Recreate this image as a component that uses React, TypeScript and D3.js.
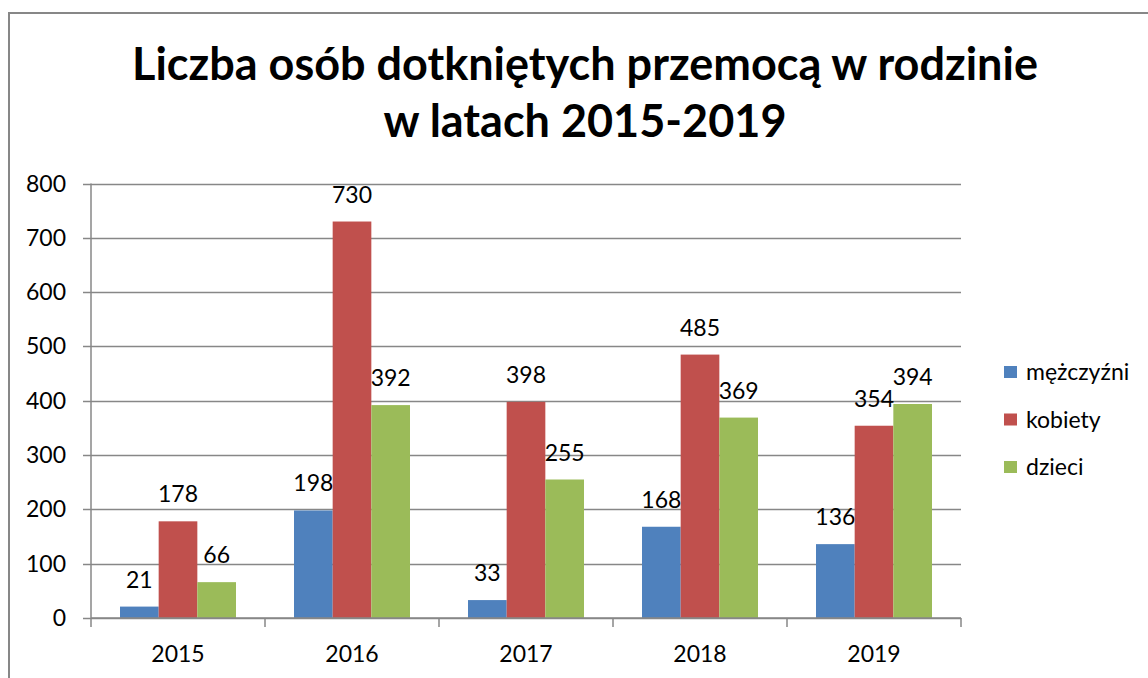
import React from 'react';
import * as d3 from 'd3';

const years = ['2015', '2016', '2017', '2018', '2019'];
const seriesNames = ['mężczyźni', 'kobiety', 'dzieci'];
const men = [21, 198, 33, 168, 136];
const women = [178, 730, 398, 485, 354];
const children = [66, 392, 255, 369, 394];
const yTicks = [0, 100, 200, 300, 400, 500, 600, 700, 800];
const colors = ['#4F81BD', '#C0504D', '#9BBB59'];
const titleLines = ['Liczba osób dotkniętych przemocą w rodzinie', 'w latach 2015-2019'];

const W = 1148;
const H = 678;
const plot = { left: 91, right: 961, top: 183.5, bottom: 618 };
const font = 'Lato, "Open Sans", sans-serif';
const grid = '#878787';
const fs = 23;

export default function App() {
  const values = [men, women, children];

  const x = d3.scaleBand<string>()
    .domain(years)
    .range([plot.left, plot.right]);

  // 3 bars per group, gap between groups ~ 1.5 bar widths
  const inner = d3.scaleBand<number>()
    .domain([0, 1, 2])
    .range([0, x.bandwidth()])
    .paddingInner(0)
    .paddingOuter(0.75);

  const y = d3.scaleLinear()
    .domain([0, 800])
    .range([plot.bottom, plot.top]);

  return (
    <svg width={W} height={H} style={{ position: 'absolute', left: 0, top: 0, background: '#fff' }}
      fontFamily={font}>
      <rect x={9} y={13} width={1300} height={900} fill="none" stroke={grid} strokeWidth={2} />

      {titleLines.map((t, i) => (
        <text key={i} x={585} y={80 + i * 57} textAnchor="middle" fontSize={45} fontWeight="bold" fill="#000">
          {t}
        </text>
      ))}

      {/* gridlines + y ticks */}
      {yTicks.map(t => (
        <g key={t}>
          <line x1={plot.left - 8} x2={plot.right} y1={Math.round(y(t)) + 0.5} y2={Math.round(y(t)) + 0.5}
            stroke={grid} strokeWidth={1.5} />
          <text x={66} y={y(t)} dy="0.35em" textAnchor="end" fontSize={fs} fill="#000">{t}</text>
        </g>
      ))}

      {/* y axis */}
      <line x1={plot.left} x2={plot.left} y1={plot.top} y2={plot.bottom} stroke={grid} strokeWidth={1.5} />

      {/* category ticks */}
      {[...years.map(d => x(d) as number), plot.right].map((v, i) => (
        <line key={i} x1={v} x2={v} y1={plot.bottom} y2={plot.bottom + 9} stroke={grid} strokeWidth={1.5} />
      ))}

      {/* bars */}
      {years.map((yr, i) => (
        <g key={yr}>
          {values.map((arr, s) => {
            const bx = (x(yr) as number) + (inner(s) as number);
            return (
              <g key={s}>
                <rect x={bx} y={y(arr[i])} width={inner.bandwidth()} height={y(0) - y(arr[i])} fill={colors[s]} />
                <text x={bx + inner.bandwidth() / 2} y={y(arr[i]) - 19} textAnchor="middle" fontSize={fs} fill="#000">
                  {arr[i]}
                </text>
              </g>
            );
          })}
          <text x={(x(yr) as number) + x.bandwidth() / 2} y={662} textAnchor="middle" fontSize={fs} fill="#000">
            {yr}
          </text>
        </g>
      ))}

      {/* x axis line */}
      <line x1={plot.left} x2={plot.right} y1={plot.bottom} y2={plot.bottom} stroke={grid} strokeWidth={1.5} />

      {/* legend */}
      {seriesNames.map((n, i) => (
        <g key={n} transform={`translate(1004,${372 + i * 47.5})`}>
          <rect x={0} y={-6} width={13} height={12} fill={colors[i]} />
          <text x={22} y={0} dy="0.35em" fontSize={fs} fill="#000">{n}</text>
        </g>
      ))}
    </svg>
  );
}
